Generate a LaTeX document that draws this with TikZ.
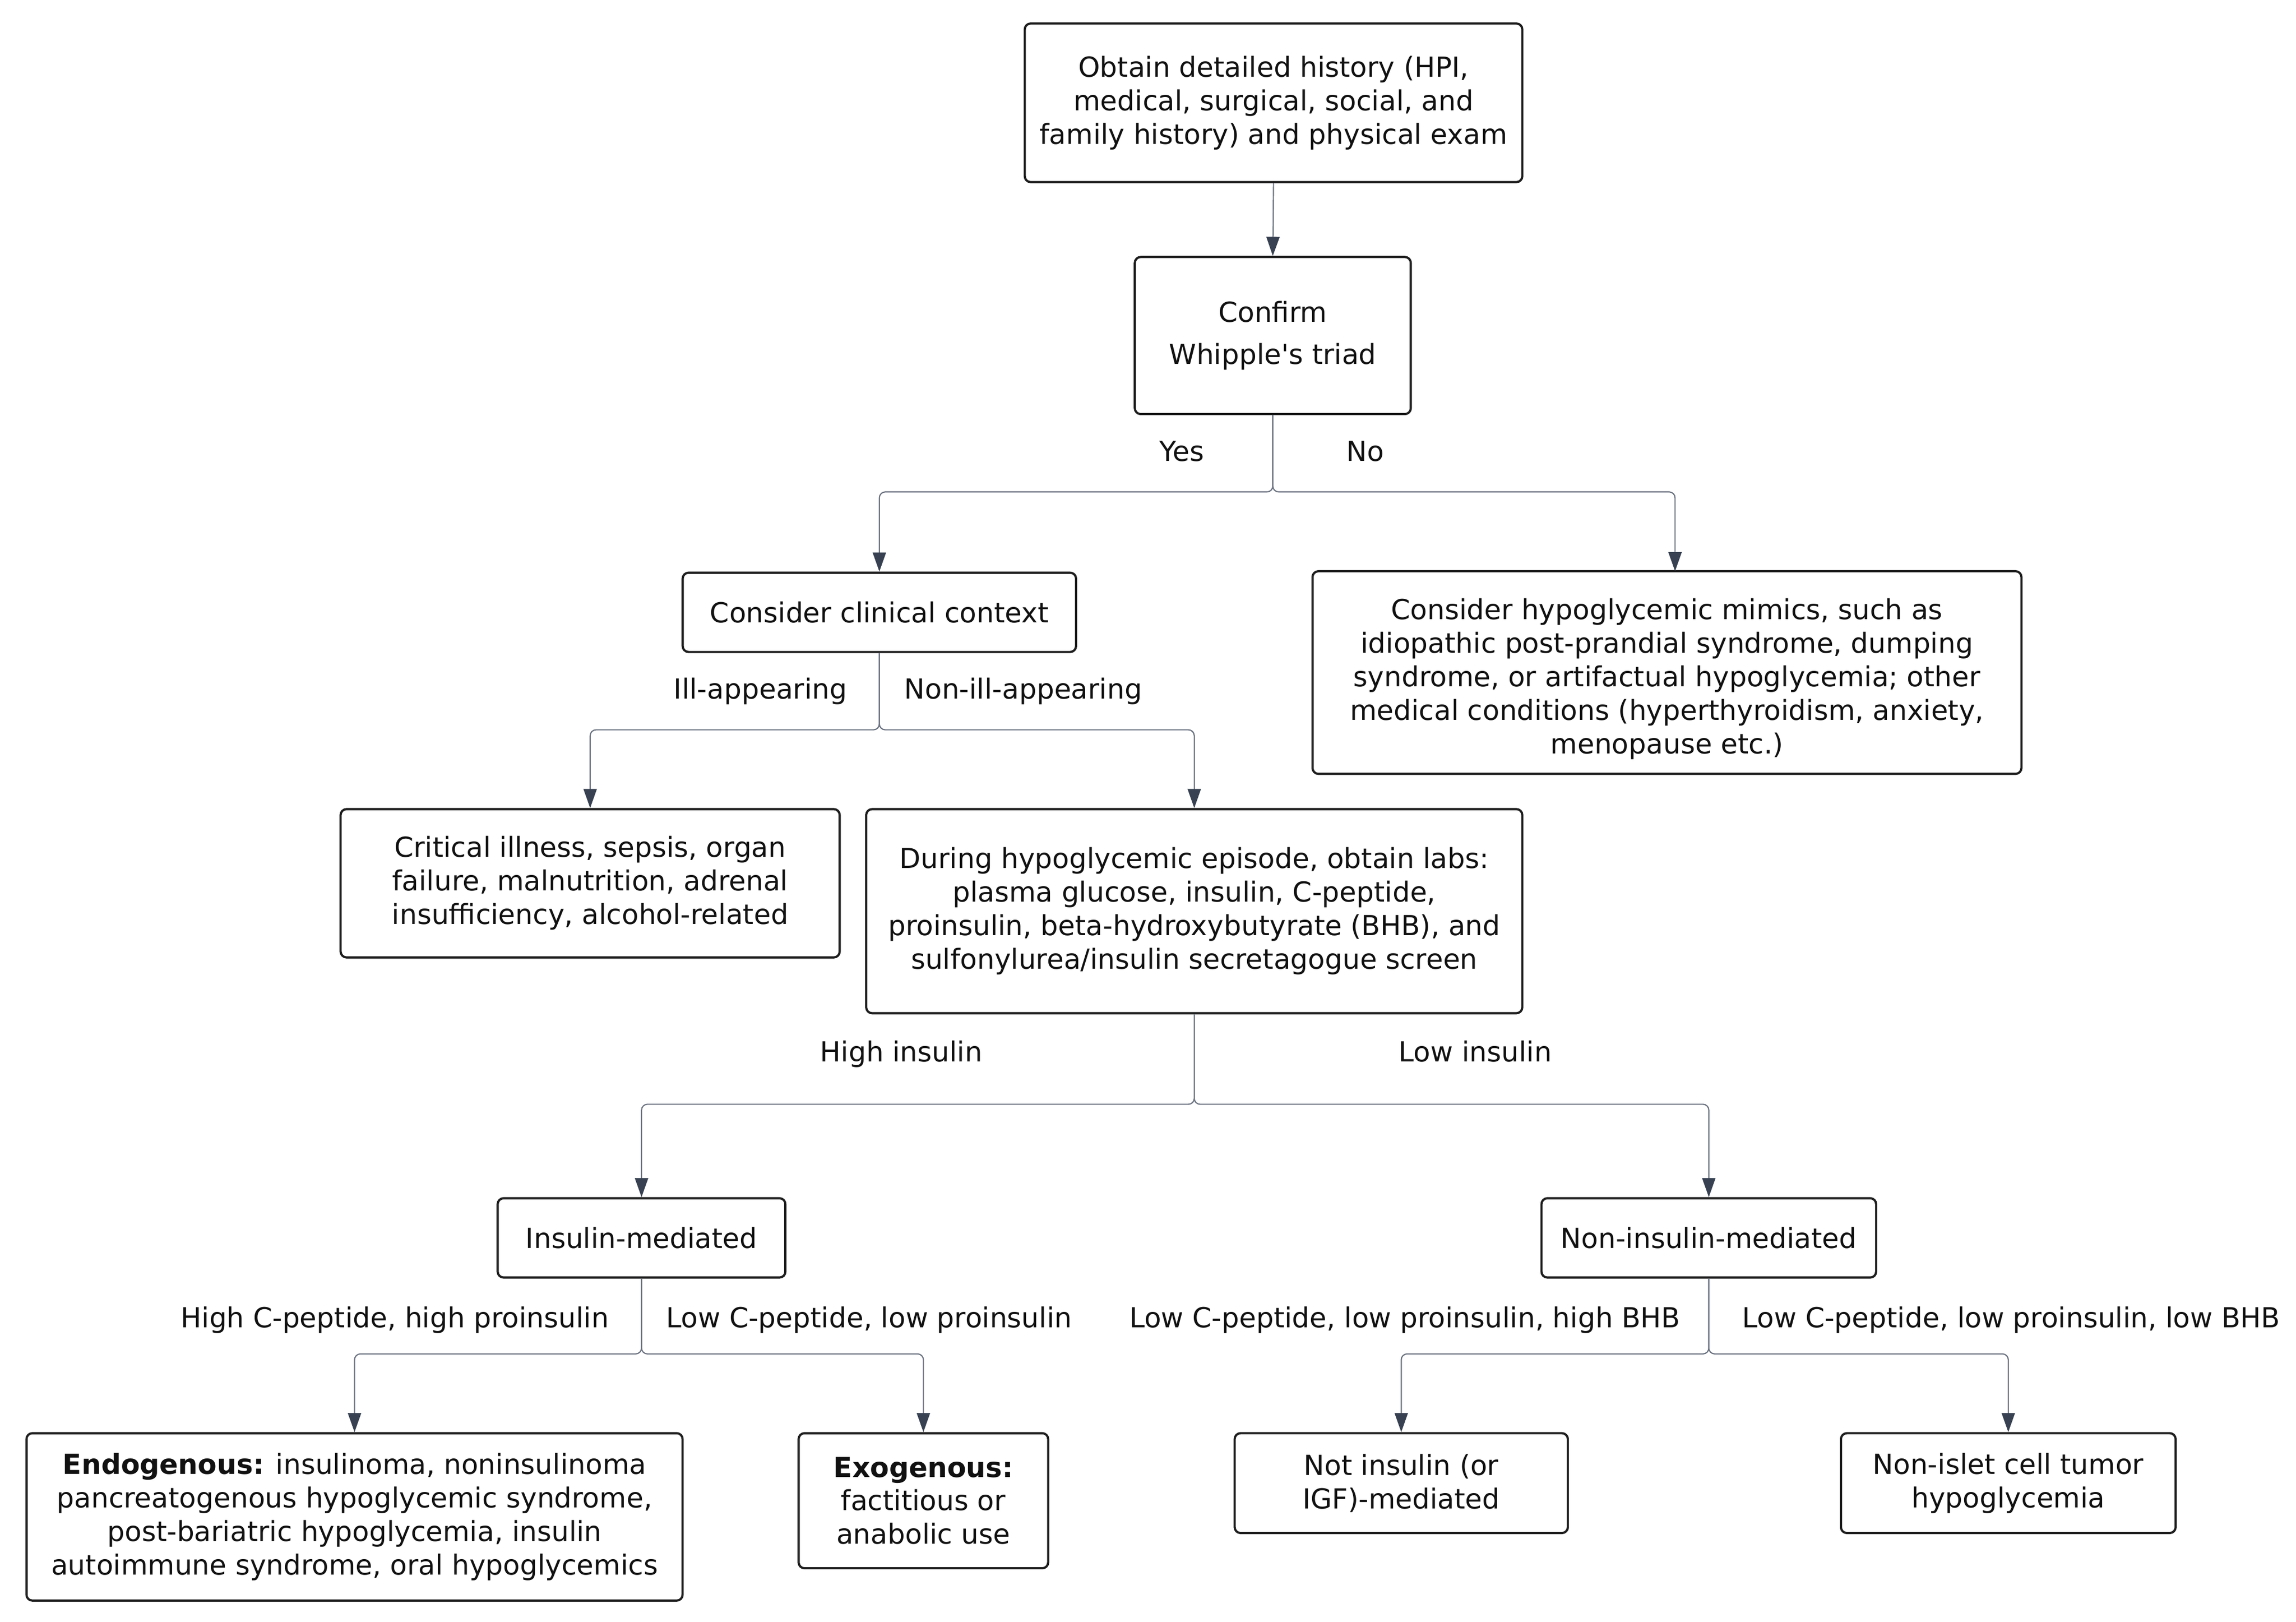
\documentclass[tikz,border=0pt]{standalone}
\usepackage{fontspec}
\setmainfont{DejaVu Sans}
\usetikzlibrary{arrows.meta}
\definecolor{boxc}{HTML}{1E1E1E}
\definecolor{linec}{HTML}{6B7280}
\definecolor{tipc}{HTML}{374151}
\definecolor{txtc}{HTML}{111111}
\begin{document}
\begin{tikzpicture}[x=0.02cm,y=-0.02cm,
  box/.style={draw=boxc, line width=0.85pt, rounded corners=0.08cm, align=center, inner sep=0pt, text=txtc, font=\fontsize{10.7}{13}\selectfont},
  lbl/.style={text=txtc, font=\fontsize{10.7}{13}\selectfont, inner sep=0pt, text height=8pt, text depth=2.4pt},
  conn/.style={draw=linec, line width=0.45pt, rounded corners=0.08cm, -{Triangle[length=0.26cm,width=0.18cm,color=tipc]}}
]
\useasboundingbox (0,0) rectangle (1564,1104.5);
\fill[white] (0,0) rectangle (1564,1104.5);

\node[box, minimum width=6.78cm, minimum height=2.16cm] (hist) at (867.5,70) {Obtain detailed history (HPI,\\ medical, surgical, social, and\\ family history) and physical exam};
\node[box, minimum width=3.76cm, minimum height=2.14cm] (whip) at (867,228.5) {Confirm\\[0.12cm] Whipple\textquotesingle s triad};
\node[box, minimum width=5.36cm, minimum height=1.08cm] (ctx) at (599,417) {Consider clinical context};
\node[box, minimum width=9.66cm, minimum height=2.76cm] (mim) at (1135.5,458) {\rule{0pt}{0.46cm}Consider hypoglycemic mimics, such as\\ idiopathic post-prandial syndrome, dumping\\ syndrome, or artifactual hypoglycemia; other\\ medical conditions (hyperthyroidism, anxiety,\\ menopause etc.)};
\node[box, minimum width=6.8cm, minimum height=2.02cm] (crit) at (402,601.5) {Critical illness, sepsis, organ\\ failure, malnutrition, adrenal\\ insufficiency, alcohol-related};
\node[box, minimum width=8.94cm, minimum height=2.78cm] (labs) at (813.5,620.5) {During hypoglycemic episode, obtain labs:\\ plasma glucose, insulin, C-peptide,\\ proinsulin, beta-hydroxybutyrate (BHB), and\\ sulfonylurea/insulin secretagogue screen};
\node[box, minimum width=3.92cm, minimum height=1.08cm] (ins) at (437,843) {Insulin-mediated};
\node[box, minimum width=4.56cm, minimum height=1.08cm] (nins) at (1164,843) {Non-insulin-mediated};
\node[box, minimum width=8.94cm, minimum height=2.28cm] (endo) at (241.5,1033) {\textbf{Endogenous:} insulinoma, noninsulinoma\\ pancreatogenous hypoglycemic syndrome,\\ post-bariatric hypoglycemia, insulin\\ autoimmune syndrome, oral hypoglycemics};
\node[box, minimum width=3.4cm, minimum height=1.84cm] (exo) at (629,1022) {\textbf{Exogenous:}\\ factitious or\\ anabolic use};
\node[box, minimum width=4.54cm, minimum height=1.36cm] (notins) at (954.5,1010) {Not insulin (or\\ IGF)-mediated};
\node[box, minimum width=4.56cm, minimum height=1.36cm] (nict) at (1368,1010) {Non-islet cell tumor\\ hypoglycemia};

% labels
\node[lbl] (yes) at (805,309) {Yes};
\node[lbl] (no) at (930,309) {No};
\node[lbl] (ill) at (518,471) {Ill-appearing};
\node[lbl] (nill) at (697,471) {Non-ill-appearing};
\node[lbl] (hi) at (614,718) {High insulin};
\node[lbl] (lo) at (1005,718) {Low insulin};
\node[lbl] (hc) at (269,899) {High C-peptide, high proinsulin};
\node[lbl] (lc) at (592,899) {Low C-peptide, low proinsulin};
\node[lbl] (lch) at (957,899) {Low C-peptide, low proinsulin, high BHB};
\node[lbl] (lcl) at (1370,899) {Low C-peptide, low proinsulin, low BHB};

% connectors
\draw[conn] (hist.south) -- (whip.north);
\coordinate (mimtop) at (1141,389);
\draw[conn] (whip.south) -- (whip.south |- 0,335) -| (ctx.north);
\draw[conn] (whip.south) -- (whip.south |- 0,335) -| (mimtop);
\draw[conn] (ctx.south) -- (ctx.south |- 0,497) -| (crit.north);
\draw[conn] (ctx.south) -- (ctx.south |- 0,497) -| (labs.north);
\draw[conn] (labs.south) -- (labs.south |- 0,752) -| (ins.north);
\draw[conn] (labs.south) -- (labs.south |- 0,752) -| (nins.north);
\draw[conn] (ins.south) -- (ins.south |- 0,922) -| (endo.north);
\draw[conn] (ins.south) -- (ins.south |- 0,922) -| (exo.north);
\draw[conn] (nins.south) -- (nins.south |- 0,922) -| (notins.north);
\draw[conn] (nins.south) -- (nins.south |- 0,922) -| (nict.north);
\end{tikzpicture}
\end{document}
